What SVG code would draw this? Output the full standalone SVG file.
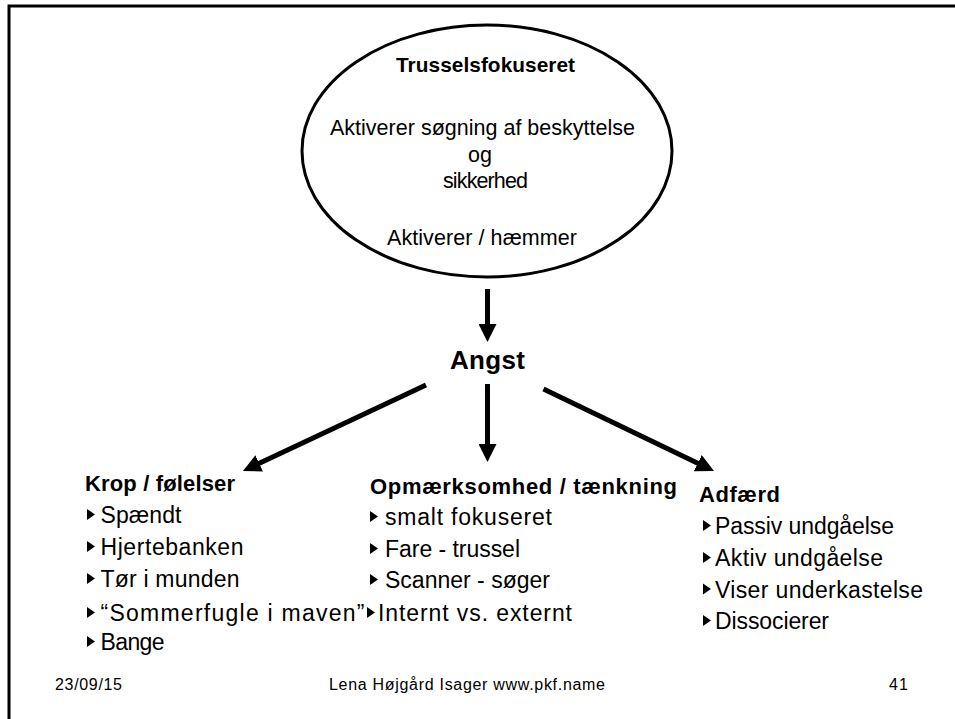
<svg xmlns="http://www.w3.org/2000/svg" width="955" height="719" viewBox="0 0 955 719">
  <style>
    text { font-family: "Liberation Sans", Arial, sans-serif; fill: #000; }
    .b { font-weight: bold; }
    .ell { font-size: 21.5px; }
    .head { font-size: 22px; font-weight: bold; }
    .item { font-size: 23px; }
    .foot { font-size: 16px; }
    .conn { stroke: #000; stroke-width: 5; fill: none; marker-end: url(#arrow); }
  </style>
  <defs>
    <marker id="arrow" markerUnits="userSpaceOnUse" markerWidth="18" markerHeight="18" viewBox="0 0 18 18" refX="8" refY="9" orient="auto">
      <path d="M0,0 L18,9 L0,18 z" fill="#000"/>
    </marker>
    <path id="bul" d="M0,0 L8,5.5 L0,11 z" fill="#000"/>
  </defs>

  <rect width="955" height="719" fill="#fff"/>
  <!-- slide frame (top and left edges) -->
  <path d="M9,719 V6 H955" fill="none" stroke="#000" stroke-width="3"/>

  <!-- threat-focused system -->
  <g id="trusselsfokuseret">
    <ellipse cx="487" cy="151" rx="185" ry="126" fill="#fff" stroke="#000" stroke-width="3"/>
    <text class="b" x="396" y="72" font-size="20.8" textLength="179">Trusselsfokuseret</text>
    <text class="ell" x="330" y="135" textLength="305">Aktiverer søgning af beskyttelse</text>
    <text class="ell" x="480" y="162" text-anchor="middle">og</text>
    <text class="ell" x="443" y="188" textLength="85">sikkerhed</text>
    <text class="ell" x="387" y="245" textLength="190">Aktiverer / hæmmer</text>
  </g>

  <g id="angst">
    <text class="b" x="450" y="369" font-size="26" textLength="75">Angst</text>
  </g>

  <g id="connectors">
    <path class="conn" d="M487.5,289 L487.5,332"/>
    <path class="conn" d="M487.5,384 L487.5,452"/>
    <path class="conn" d="M426,385 L252,466.8"/>
    <path class="conn" d="M543.5,389 L705,466.7"/>
  </g>

  <g id="krop">
    <text class="head" x="85" y="491" textLength="150">Krop / følelser</text>
    <use href="#bul" x="87" y="509"/>
    <text class="item" x="100.5" y="523" textLength="81">Spændt</text>
    <use href="#bul" x="87" y="541"/>
    <text class="item" x="100.5" y="555" textLength="143">Hjertebanken</text>
    <use href="#bul" x="87" y="573"/>
    <text class="item" x="100.5" y="587" textLength="139">Tør i munden</text>
    <use href="#bul" x="87" y="607"/>
    <text class="item" x="100.5" y="621" textLength="264">“Sommerfugle i maven”</text>
    <use href="#bul" x="87" y="636"/>
    <text class="item" x="100.5" y="650" textLength="64">Bange</text>
  </g>

  <g id="opmaerksomhed">
    <text class="head" x="370" y="494" textLength="307">Opmærksomhed / tænkning</text>
    <use href="#bul" x="370" y="511"/>
    <text class="item" x="385" y="525" textLength="167">smalt fokuseret</text>
    <use href="#bul" x="370" y="543"/>
    <text class="item" x="385" y="557" textLength="135">Fare - trussel</text>
    <use href="#bul" x="370" y="574"/>
    <text class="item" x="385" y="588" textLength="165">Scanner - søger</text>
    <use href="#bul" x="367" y="607"/>
    <text class="item" x="378" y="621" textLength="194">Internt vs. externt</text>
  </g>

  <g id="adfaerd">
    <text class="head" x="699" y="502" textLength="81">Adfærd</text>
    <use href="#bul" x="703" y="520"/>
    <text class="item" x="715" y="534" textLength="179">Passiv undgåelse</text>
    <use href="#bul" x="703" y="552"/>
    <text class="item" x="715" y="566" textLength="168">Aktiv undgåelse</text>
    <use href="#bul" x="703" y="583.5"/>
    <text class="item" x="715" y="597.5" textLength="208">Viser underkastelse</text>
    <use href="#bul" x="703" y="615"/>
    <text class="item" x="715" y="629" textLength="114">Dissocierer</text>
  </g>

  <g id="footer">
    <text class="foot" x="55" y="690" textLength="67">23/09/15</text>
    <text class="foot" x="329" y="690" textLength="276">Lena Højgård Isager www.pkf.name</text>
    <text class="foot" x="889" y="690" textLength="19">41</text>
  </g>
</svg>
